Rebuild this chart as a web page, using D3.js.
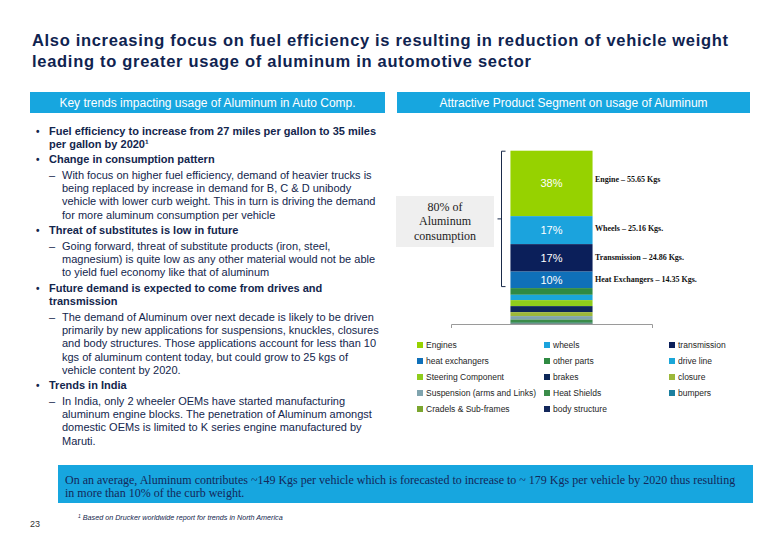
<!DOCTYPE html>
<html>
<head>
<meta charset="utf-8">
<script src="https://cdn.jsdelivr.net/npm/d3@7"></script>
<style>
  html, body { margin: 0; padding: 0; background: #ffffff; }
  svg { display: block; }
</style>
</head>
<body>
<svg id="chart" width="780" height="540"></svg>
<script>
// ---------- data ----------
const titleLines = [
  "Also increasing focus on fuel efficiency is resulting in reduction of vehicle weight",
  "leading to greater usage of aluminum in automotive sector"
];
const leftHeader = "Key trends impacting usage of Aluminum in Auto Comp.";
const rightHeader = "Attractive Product Segment on usage of Aluminum";

// type: b = bold bullet, bc = bold continuation, d = dash item, dc = dash continuation
const bulletLines = [
  ["b",  "Fuel efficiency to increase from 27 miles per gallon to 35 miles"],
  ["bc", "per gallon by 2020\u00B9"],
  ["b",  "Change in consumption pattern"],
  ["d",  "With focus on higher fuel efficiency, demand of heavier trucks is"],
  ["dc", "being replaced by increase in demand for B, C & D unibody"],
  ["dc", "vehicle with lower curb weight. This in turn is driving the demand"],
  ["dc", "for more aluminum consumption per vehicle"],
  ["b",  "Threat of substitutes is low in future"],
  ["d",  "Going forward, threat of substitute products (iron, steel,"],
  ["dc", "magnesium) is quite low as any other material would not be able"],
  ["dc", "to yield fuel economy like that of aluminum"],
  ["b",  "Future demand is expected to come from drives and"],
  ["bc", "transmission"],
  ["d",  "The demand of Aluminum over next  decade is likely to be driven"],
  ["dc", "primarily by new applications for suspensions, knuckles, closures"],
  ["dc", "and body structures. Those applications account for less than 10"],
  ["dc", "kgs of aluminum content today, but could grow to 25 kgs of"],
  ["dc", "vehicle content by 2020."],
  ["b",  "Trends in India"],
  ["d",  "In India, only 2 wheeler OEMs have started manufacturing"],
  ["dc", "aluminum engine blocks.  The penetration of Aluminum amongst"],
  ["dc", "domestic OEMs is limited to K series engine manufactured by"],
  ["dc", "Maruti."]
];

const segments = [
  "Engines", "wheels", "transmission", "heat exchangers", "other parts",
  "drive line", "Steering Component", "brakes", "closure",
  "Suspension (arms and Links)", "Heat Shields", "bumpers",
  "Cradels & Sub-frames", "body structure"
];
// share of aluminum usage (%) per segment
const shares = [38.1, 16.3, 16.0, 9.6, 3.9, 3.1, 3.5, 3.5, 2.3, 2.0, 1.9, 0.3, 0.2, 0.2];
const segColors = [
  "#96d200", "#1ba3dd", "#0b1f5a", "#0f70b9", "#2f8a42",
  "#1aa6d8", "#8fcd1c", "#0d2758", "#9cb83a", "#80a4ae",
  "#3b8c4a", "#1b7f9f", "#7ba62f", "#13285b"
];
const barLabels = ["38%", "17%", "17%", "10%"];
const sideLabels = [
  "Engine \u2013 55.65 Kgs",
  "Wheels \u2013 25.16 Kgs.",
  "Transmission \u2013 24.86 Kgs.",
  "Heat Exchangers \u2013 14.35 Kgs."
];
const bracketText = ["80% of", "Aluminum", "consumption"];
const bottomText = [
  "On an average, Aluminum contributes ~149 Kgs per vehicle which is forecasted to increase to ~ 179 Kgs per vehicle by 2020 thus resulting",
  "in more than 10% of the curb weight."
];
const footnote = "Based on Drucker worldwide report for trends in North America";
const pageNumber = "23";

// ---------- drawing ----------
const svg = d3.select("#chart");
const navy = "#13264d";
const blue = "#17a6df";

// title
const titleWidths = [696, 499];
svg.append("g").selectAll("text").data(titleLines).join("text")
  .attr("x", 32).attr("y", (d, i) => 46 + i * 21)
  .attr("font-family", "Liberation Sans, Arial, sans-serif")
  .attr("font-size", 16.5).attr("font-weight", "bold").attr("fill", "#0f2350")
  .attr("textLength", (d, i) => titleWidths[i]).attr("lengthAdjust", "spacing")
  .text(d => d);

// header bars
const headers = [
  {t: leftHeader, x0: 30, x1: 385},
  {t: rightHeader, x0: 397, x1: 750}
];
const hg = svg.append("g");
hg.selectAll("rect").data(headers).join("rect")
  .attr("x", d => d.x0).attr("y", 92).attr("width", d => d.x1 - d.x0).attr("height", 21)
  .attr("fill", blue);
hg.selectAll("text").data(headers).join("text")
  .attr("x", d => (d.x0 + d.x1) / 2).attr("y", 106.5)
  .attr("text-anchor", "middle")
  .attr("font-family", "Liberation Sans, Arial, sans-serif")
  .attr("font-size", 12).attr("fill", "#ffffff")
  .text(d => d.t);

// bullets
const bg = svg.append("g").attr("font-family", "Liberation Sans, Arial, sans-serif")
  .attr("font-size", 11).attr("fill", navy);
let yy = 134.5;
bulletLines.forEach((l, i) => {
  const type = l[0];
  if (i > 0) {
    if (type === "b" || type === "d") yy += 15.5; else yy += 13.3;
  }
  const bold = type === "b" || type === "bc";
  const tx = bold ? 49 : 62;
  if (type === "b") {
    bg.append("text").attr("x", 36).attr("y", yy).attr("font-weight", "bold").attr("font-size", 10).text("\u2022");
  }
  if (type === "d") {
    bg.append("text").attr("x", 49).attr("y", yy).text("\u2013");
  }
  bg.append("text").attr("x", tx).attr("y", yy)
    .attr("font-weight", bold ? "bold" : "normal")
    .text(l[1]);
});

// stacked bar
const stackData = [Object.fromEntries(segments.map((s, i) => [s, shares[i]]))];
stackData[0].cat = "Aluminum";
const series = d3.stack().keys(segments).order(d3.stackOrderReverse)(stackData);
const total = d3.sum(shares);
const x = d3.scaleBand().domain(["Aluminum"]).range([451, 652]).paddingInner(0.42).paddingOuter(0.42);
const y = d3.scaleLinear().domain([0, total]).range([324, 150.7]);

const cg = svg.append("g");
cg.selectAll("rect").data(series).join("rect")
  .attr("x", x("Aluminum"))
  .attr("width", x.bandwidth())
  .attr("y", d => y(d[0][1]))
  .attr("height", d => y(d[0][0]) - y(d[0][1]))
  .attr("fill", d => segColors[segments.indexOf(d.key)]);

// axis baseline
const axis = d3.axisBottom(x).tickValues([]).tickSizeOuter(4);
const ag = svg.append("g").attr("transform", "translate(0,324)").call(axis);
ag.select(".domain").attr("stroke", "#9a9a9a");

// in-bar labels
const topSeries = segments.slice(0, 4).map(k => series.find(s => s.key === k));
cg.selectAll("text.bl").data(topSeries).join("text").attr("class", "bl")
  .attr("x", x("Aluminum") + x.bandwidth() / 2)
  .attr("y", d => (y(d[0][0]) + y(d[0][1])) / 2 + 4)
  .attr("text-anchor", "middle")
  .attr("font-family", "Liberation Sans, Arial, sans-serif")
  .attr("font-size", 11).attr("fill", "#ffffff")
  .text((d, i) => barLabels[i]);

// side labels
const sideY = [179.5, 228, 257.5, 279.5];
cg.selectAll("text.sl").data(sideLabels).join("text").attr("class", "sl")
  .attr("x", 595).attr("y", (d, i) => sideY[i] + 2.5)
  .attr("font-family", "Liberation Serif, Times New Roman, serif")
  .attr("font-size", 8).attr("font-weight", "bold").attr("fill", "#111")
  .text(d => d);

// bracket
const bTop = y(total), bBot = y(total - d3.sum(shares.slice(0, 4)));
const brk = svg.append("g").attr("stroke", "#1a2b4a").attr("stroke-width", 1).attr("fill", "none");
brk.append("path").attr("d",
  `M505.5,${bTop + 0.5} H501.5 V${bBot - 1.5} H505.5 M501.5,${(bTop + bBot) / 2 - 0.5} H497.5`);

svg.append("rect").attr("x", 396).attr("y", 196).attr("width", 98).attr("height", 51).attr("fill", "#efefef");
svg.append("g").selectAll("text").data(bracketText).join("text")
  .attr("x", 445).attr("y", (d, i) => 210.5 + i * 14.5)
  .attr("text-anchor", "middle")
  .attr("font-family", "Liberation Serif, Times New Roman, serif")
  .attr("font-size", 12).attr("fill", "#222")
  .text(d => d);

// legend
const legX = [417, 544, 669];
const leg = svg.append("g").selectAll("g").data(segments).join("g")
  .attr("transform", (d, i) => `translate(${legX[i % 3]},${345 + Math.floor(i / 3) * 16})`);
leg.append("rect").attr("x", 0).attr("y", -3).attr("width", 6).attr("height", 6)
  .attr("fill", (d, i) => segColors[i]);
leg.append("text").attr("x", 9).attr("y", 3)
  .attr("font-family", "Liberation Sans, Arial, sans-serif")
  .attr("font-size", 8.5).attr("fill", "#1e1e1e")
  .text(d => d);

// bottom box
svg.append("rect").attr("x", 58).attr("y", 465).attr("width", 695).attr("height", 38).attr("fill", blue);
svg.append("g").selectAll("text").data(bottomText).join("text")
  .attr("x", 65).attr("y", (d, i) => 484 + i * 13)
  .attr("font-family", "Liberation Serif, Times New Roman, serif")
  .attr("font-size", 12).attr("fill", "#14285a")
  .text(d => d);

// footnote & page number
const fn = svg.append("text").attr("x", 78).attr("y", 520)
  .attr("font-family", "Liberation Sans, Arial, sans-serif")
  .attr("font-size", 7.2).attr("font-style", "italic").attr("fill", navy);
fn.append("tspan").attr("font-size", 5).attr("dy", -2).text("1");
fn.append("tspan").attr("dy", 2).text(" " + footnote);

svg.append("text").attr("x", 30).attr("y", 527)
  .attr("font-family", "Liberation Sans, Arial, sans-serif")
  .attr("font-size", 9).attr("fill", "#333")
  .text(pageNumber);
</script>
</body>
</html>
